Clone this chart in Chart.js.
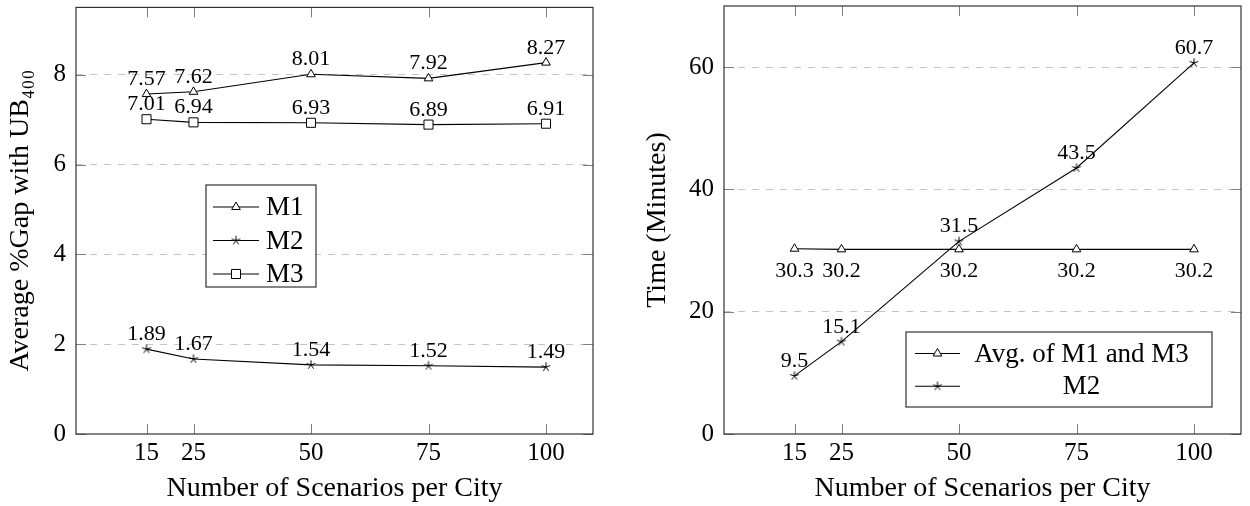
<!DOCTYPE html>
<html><head><meta charset="utf-8">
<script src="https://cdn.jsdelivr.net/npm/chart.js@4.4.0/dist/chart.umd.min.js"></script>
<style>
html,body{margin:0;padding:0;background:#fff;}
#wrap{position:relative;width:1250px;height:506px;overflow:hidden;}
.box{position:absolute;top:0;width:625px;height:506px;}
#b1{left:0;} #b2{left:625px;}
canvas{display:block;}
</style></head><body>
<div id="wrap">
  <div class="box" id="b1"><canvas id="c1" width="625" height="506"></canvas></div>
  <div class="box" id="b2"><canvas id="c2" width="625" height="506"></canvas></div>
</div>
<script>
// ---------- data ----------
const scenarios = [15, 25, 50, 75, 100];
const gapM1 = [7.57, 7.62, 8.01, 7.92, 8.27];
const gapM2 = [1.89, 1.67, 1.54, 1.52, 1.49];
const gapM3 = [7.01, 6.94, 6.93, 6.89, 6.91];
const timeAvgM1M3 = [30.3, 30.2, 30.2, 30.2, 30.2];
const timeM2 = [9.5, 15.1, 31.5, 43.5, 60.7];
const xTicks = [15, 25, 50, 75, 100];
const gapTicks = [0, 2, 4, 6, 8];
const timeTicks = [0, 20, 40, 60];

// ---------- styling ----------
const FONT = "'Liberation Serif', 'DejaVu Serif', serif";
Chart.defaults.font.family = FONT;
Chart.defaults.color = '#000';

function makeStar(r) {
  const s = 12;
  const c = document.createElement('canvas');
  c.width = s; c.height = s;
  const g = c.getContext('2d');
  g.strokeStyle = '#000'; g.lineWidth = 1;
  g.beginPath();
  for (let k = 0; k < 5; k++) {
    const a = -Math.PI / 2 + k * 2 * Math.PI / 5;
    g.moveTo(s / 2, s / 2);
    g.lineTo(s / 2 + r * Math.cos(a), s / 2 + r * Math.sin(a));
  }
  g.stroke();
  return c;
}
const starImg = makeStar(4.6);

const pts = (vals) => scenarios.map((s, i) => ({ x: s, y: vals[i] }));

function series(label, vals, style, radius, labelPosition) {
  return {
    label, data: pts(vals),
    borderColor: '#000', borderWidth: 1.1, tension: 0, fill: false,
    pointStyle: style, pointRadius: radius, pointHoverRadius: radius,
    pointBorderColor: '#000', pointBackgroundColor: '#fff', pointBorderWidth: 1,
    labelPosition
  };
}

// frame + inside ticks
const framePlugin = {
  id: 'frame',
  afterDraw(chart, args, opts) {
    const { ctx, chartArea: a } = chart;
    const xs = chart.scales.x, ys = chart.scales.y;
    ctx.save();
    ctx.strokeStyle = '#808080'; ctx.lineWidth = 1;
    ctx.beginPath();
    xTicks.forEach(v => {
      const px = Math.round(xs.getPixelForValue(v)) + 0.5;
      ctx.moveTo(px, a.bottom); ctx.lineTo(px, a.bottom - opts.len);
      ctx.moveTo(px, a.top); ctx.lineTo(px, a.top + opts.len);
    });
    opts.yTicks.forEach(v => {
      const py = Math.round(ys.getPixelForValue(v)) + 0.5;
      ctx.moveTo(a.left, py); ctx.lineTo(a.left + opts.len, py);
      ctx.moveTo(a.right, py); ctx.lineTo(a.right - opts.len, py);
    });
    ctx.stroke();
    ctx.strokeStyle = '#333'; ctx.lineWidth = 1.2;
    ctx.strokeRect(a.left, a.top, a.right - a.left, a.bottom - a.top);
    ctx.restore();
  }
};

// value labels near points
const pointLabels = {
  id: 'pointLabels',
  afterDatasetsDraw(chart, args, opts) {
    const ctx = chart.ctx;
    ctx.save();
    ctx.font = opts.size + 'px ' + FONT;
    ctx.fillStyle = '#000'; ctx.textAlign = 'center';
    chart.data.datasets.forEach((ds, i) => {
      const meta = chart.getDatasetMeta(i);
      meta.data.forEach((pt, j) => {
        const txt = String(ds.data[j].y);
        if (ds.labelPosition === 'below') {
          ctx.textBaseline = 'top';
          ctx.fillText(txt, pt.x, pt.y + opts.below);
        } else {
          ctx.textBaseline = 'alphabetic';
          ctx.fillText(txt, pt.x, pt.y - opts.above);
        }
      });
    });
    ctx.restore();
  }
};

// boxed legend
const boxLegend = {
  id: 'boxLegend',
  afterDraw(chart, args, o) {
    const ctx = chart.ctx;
    ctx.save();
    ctx.fillStyle = '#fff';
    ctx.fillRect(o.x, o.y, o.w, o.h);
    ctx.strokeStyle = '#333'; ctx.lineWidth = 1.2;
    ctx.strokeRect(o.x, o.y, o.w, o.h);
    ctx.font = o.size + 'px ' + FONT;
    ctx.textBaseline = 'middle';
    ctx.textAlign = o.align;
    chart.data.datasets.forEach((ds, i) => {
      const cy = o.y + o.first + i * o.gap;
      ctx.strokeStyle = '#000'; ctx.lineWidth = 1.1;
      ctx.beginPath();
      ctx.moveTo(o.x + o.l0, cy); ctx.lineTo(o.x + o.l1, cy);
      ctx.stroke();
      const mx = o.x + (o.l0 + o.l1) / 2;
      if (ds.pointStyle instanceof HTMLCanvasElement) {
        ctx.drawImage(ds.pointStyle, mx - ds.pointStyle.width / 2, cy - ds.pointStyle.height / 2);
      } else {
        ctx.fillStyle = '#fff'; ctx.strokeStyle = '#000'; ctx.lineWidth = 1;
        Chart.helpers.drawPoint(ctx, { pointStyle: ds.pointStyle, radius: ds.pointRadius, borderWidth: 1, rotation: 0 }, mx, cy);
      }
      ctx.fillStyle = '#000';
      ctx.fillText(ds.label, o.x + o.tx, cy + 1);
    });
    ctx.restore();
  }
};

function makeChart(id, datasets, yMax, yTicks, yTitle, yTitlePad, yWidth, padRight, legendOpts) {
  return new Chart(document.getElementById(id), {
    type: 'line',
    data: { datasets },
    plugins: [framePlugin, pointLabels, boxLegend],
    options: {
      responsive: false, animation: false,
      layout: { padding: { top: 4, right: padRight, bottom: 0, left: 0 } },
      scales: {
        x: {
          type: 'linear', min: 0, max: 110,
          afterBuildTicks: s => { s.ticks = xTicks.map(v => ({ value: v })); },
          afterFit: s => { s.height = 72; s.paddingLeft = 0; s.paddingRight = 0; },
          grid: { display: false, drawTicks: false },
          border: { display: false },
          ticks: { autoSkip: false, maxRotation: 0, padding: 4, font: { size: 25 }, color: '#000' },
          title: { display: true, text: 'Number of Scenarios per City', font: { size: 28 }, color: '#000', padding: { top: 0, bottom: 1 } }
        },
        y: {
          type: 'linear', min: 0, max: yMax,
          afterBuildTicks: s => { s.ticks = yTicks.map(v => ({ value: v })); },
          afterFit: s => { s.width = yWidth; s.paddingTop = 0; s.paddingBottom = 0; },
          grid: { drawTicks: false, lineWidth: 1, color: c => (c.tick && c.tick.value === 0) ? 'rgba(0,0,0,0)' : '#c4c4c4' },
          border: { display: false, dash: [7, 7] },
          ticks: { padding: 10, font: { size: 25 }, color: '#000' },
          title: { display: true, text: yTitle, font: { size: 28 }, color: '#000', padding: { top: yTitlePad, bottom: 0 } }
        }
      },
      plugins: {
        legend: { display: false },
        tooltip: { enabled: false },
        frame: { len: 10, yTicks },
        pointLabels: { size: 22, above: 9, below: 11 },
        boxLegend: legendOpts
      }
    }
  });
}

makeChart('c1', [
  series('M1', gapM1, 'triangle', 5, 'above'),
  series('M2', gapM2, starImg, 4.6, 'above'),
  series('M3', gapM3, 'rect', 6.4, 'above')
], 9.5, gapTicks, 'Average %Gap with UB\u2084\u2080\u2080', 4, 76, 32,
{ x: 206, y: 185, w: 110, h: 102, first: 22, gap: 33.5, l0: 7, l1: 53, tx: 60, align: 'left', size: 27 });

makeChart('c2', [
  series('Avg. of M1 and M3', timeAvgM1M3, 'triangle', 5, 'below'),
  series('M2', timeM2, starImg, 4.6, 'above')
], 70, timeTicks, 'Time (Minutes)', 16, 99, 9,
{ x: 281, y: 332, w: 306, h: 75, first: 21.5, gap: 32.7, l0: 9, l1: 54, tx: 175.5, align: 'center', size: 27 });
</script>
</body></html>
